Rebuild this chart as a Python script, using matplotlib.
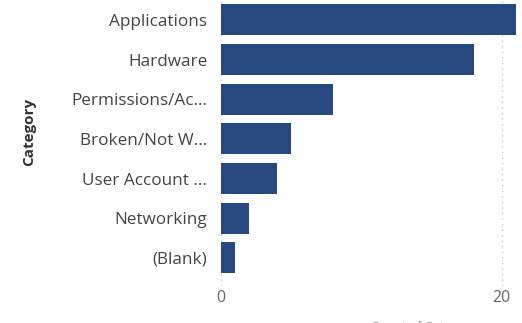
import matplotlib.pyplot as plt

categories = ['Applications', 'Hardware', 'Permissions/Ac...', 'Broken/Not W...',
              'User Account ...', 'Networking', '(Blank)']
counts = [21, 18, 8, 5, 4, 2, 1]
x_ticks = [0, 20]

plt.rcParams['font.family'] = ['Open Sans', 'DejaVu Sans']

fig = plt.figure(figsize=(5.22, 3.23), dpi=100)
ax = fig.add_axes([0.4234, 0.1158, 0.5766, 0.884])

ax.barh(range(len(categories)), counts, height=0.78, color='#28497f')
ax.set_ylim(6.7, -0.5)
ax.set_xlim(0, 21.45)

ax.set_yticks(range(len(categories)))
ax.set_yticklabels(categories, fontsize=12.3, color='#444444')
ax.set_xticks(x_ticks)
ax.set_xticklabels([str(t) for t in x_ticks], fontsize=11.5, color='#666666')
ax.tick_params(axis='y', length=0, pad=10)
ax.tick_params(axis='x', length=0, pad=3)

ax.grid(axis='x', linestyle=(0, (1, 3)), color='#c8c8c8', linewidth=1)
ax.set_axisbelow(True)
for s in ax.spines.values():
    s.set_visible(False)

fig.text(29 / 522, 1 - 132 / 323, 'Category', rotation=90, ha='center', va='center',
         fontsize=11, fontweight='bold', color='#333333')
fig.text(424 / 522, -0.015, 'Count of Category', ha='center', va='center',
         fontsize=9, color='#999999')

fig.savefig('out.png', dpi=100)
